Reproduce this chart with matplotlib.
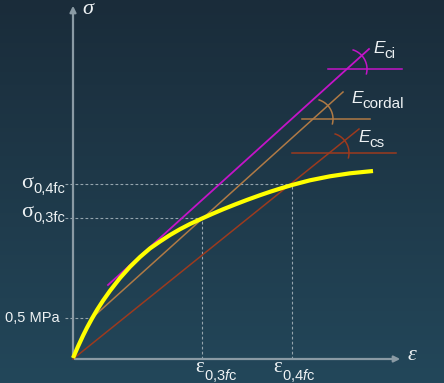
import numpy as np
import matplotlib
matplotlib.use('Agg')
import matplotlib.pyplot as plt

plt.rcParams['mathtext.fontset'] = 'custom'
plt.rcParams['mathtext.rm'] = 'Liberation Sans'
plt.rcParams['mathtext.it'] = 'Liberation Sans:italic'

# stress-strain curve (schematic units: strain x100, stress x10)
eps_curve = [0.0, 0.05, 0.10, 0.14, 0.19, 0.24, 0.30, 0.37, 0.47, 0.57,
             0.67, 0.77, 0.87, 0.97, 1.07, 1.17, 1.29, 1.39, 1.50, 1.62,
             1.74, 1.87, 1.97, 2.08, 2.19, 2.37, 2.57, 2.77, 3.00]
sig_curve = [0.1, 1.25, 2.33, 3.13, 4.05, 4.9, 5.83, 6.82, 8.1, 9.22,
             10.2, 11.06, 11.75, 12.4, 12.98, 13.5, 14.05, 14.5, 14.97, 15.45,
             15.91, 16.38, 16.72, 17.07, 17.4, 17.87, 18.27, 18.57, 18.8]

# reference points
sig_05 = 4.1          # 0,5 MPa
eps_03, sig_03 = 1.29, 14.1
eps_04, sig_04 = 2.19, 17.55

# modulus lines (start, end)
eci_eps = [0.35, 2.96]
eci_sig = [7.4, 31.0]
ecord_eps = [0.19, 2.70]
ecord_sig = [4.1, 26.7]
ecs_eps = [0.0, 2.86]
ecs_sig = [0.0, 23.0]

# horizontal reference lines for the angle marks
ref_levels = [29.0, 24.0, 20.6]
ref_x0 = [2.55, 2.29, 2.19]
ref_x1 = [3.29, 2.97, 3.23]
arc_center = [2.74, 2.40, 2.56]

c_ci = '#c414c8'
c_cord = '#b07a45'
c_cs = '#9c3a1e'
c_axis = '#8a9aa4'
c_guide = '#95a5ae'
c_text = '#eef2f4'

fig = plt.figure(figsize=(4.44, 3.83), dpi=100)
ax = fig.add_axes([0, 0, 1, 1])
ax.set_xlim(-0.73, 3.71)
ax.set_ylim(-2.4, 35.9)
ax.axis('off')

# background gradient
grad = np.linspace(0, 1, 256).reshape(-1, 1)
top = np.array([0x1a, 0x2c, 0x3a]) / 255
bot = np.array([0x23, 0x47, 0x5a]) / 255
img = top + (bot - top) * grad[:, :, None]
ax.imshow(img, extent=[-0.73, 3.71, -2.4, 35.9], aspect='auto', origin='upper', zorder=0)

# guide lines
gl = dict(color=c_guide, lw=0.8, ls=(0, (2.5, 2)), zorder=1)
ax.plot([-0.08, 0.19], [sig_05, sig_05], **gl)
ax.plot([-0.08, eps_03], [sig_03, sig_03], **gl)
ax.plot([-0.08, eps_04], [sig_04, sig_04], **gl)
ax.plot([eps_03, eps_03], [0, sig_03], **gl)
ax.plot([eps_04, eps_04], [0, sig_04], **gl)

# axes with arrows
ax.annotate('', xy=(0, 35.6), xytext=(0, -0.1),
            arrowprops=dict(arrowstyle='-|>', color=c_axis, lw=1.6, mutation_scale=9), zorder=2)
ax.annotate('', xy=(3.30, 0), xytext=(-0.01, 0),
            arrowprops=dict(arrowstyle='-|>', color=c_axis, lw=1.6, mutation_scale=9), zorder=2)

# modulus lines
ax.plot(ecs_eps, ecs_sig, color=c_cs, lw=1.1, zorder=3)
ax.plot(ecord_eps, ecord_sig, color=c_cord, lw=1.1, zorder=3)
ax.plot(eci_eps, eci_sig, color=c_ci, lw=1.3, zorder=3)

# angle marks
for lev, x0, x1, xc, col in zip(ref_levels, ref_x0, ref_x1, arc_center, [c_ci, c_cord, c_cs]):
    ax.plot([x0, x1], [lev, lev], color=col, lw=1.1, zorder=3)
    t = np.deg2rad(np.linspace(-14, 72, 40))
    r = 20  # px
    ax.plot(xc + r / 100 * np.cos(t), lev + r / 10 * np.sin(t), color=col, lw=1.1, zorder=3)

# curve
ax.plot(eps_curve, sig_curve, color='#ffff00', lw=3.0, solid_capstyle='butt',
        solid_joinstyle='round', zorder=4)

# labels
ax.text(0.15, 34.9, 'σ', family='Liberation Serif', style='italic', fontsize=16,
        color=c_text, ha='center', va='center')
ax.text(3.39, 0.35, 'ε', family='Liberation Serif', style='italic', fontsize=16,
        color=c_text, ha='center', va='center')

ax.text(3.00, 30.6, 'E', family='Liberation Sans', style='italic', fontsize=12.5, color=c_text)
ax.text(3.11, 30.1, 'ci', family='Liberation Sans', fontsize=11, color=c_text)
ax.text(2.78, 25.6, 'E', family='Liberation Sans', style='italic', fontsize=12.5, color=c_text)
ax.text(2.89, 25.1, 'cordal', family='Liberation Sans', fontsize=11, color=c_text)
ax.text(2.85, 21.7, 'E', family='Liberation Sans', style='italic', fontsize=12.5, color=c_text)
ax.text(2.96, 21.2, 'cs', family='Liberation Sans', fontsize=11, color=c_text)

ax.text(-0.52, 17.1, 'σ', family='Liberation Serif', fontsize=16, color=c_text)
ax.text(-0.40, 16.6, '0,4fc', family='Liberation Sans', fontsize=10.5, color=c_text)
ax.text(-0.52, 14.2, 'σ', family='Liberation Serif', fontsize=16, color=c_text)
ax.text(-0.40, 13.7, '0,3fc', family='Liberation Sans', fontsize=10.5, color=c_text)
ax.text(-0.68, 3.7, '0,5 MPa', family='Liberation Sans', fontsize=10.5, color=c_text)

ax.text(1.22, -1.3, 'ε', family='Liberation Serif', fontsize=15, color=c_text)
ax.text(1.31, -2.1, r'$\mathrm{0{,}3}\mathit{f}\mathrm{c}$', fontsize=10.5, color=c_text)
ax.text(2.00, -1.3, 'ε', family='Liberation Serif', fontsize=15, color=c_text)
ax.text(2.09, -2.1, r'$\mathrm{0{,}4}\mathit{f}\mathrm{c}$', fontsize=10.5, color=c_text)

fig.savefig('out.png', dpi=100)
